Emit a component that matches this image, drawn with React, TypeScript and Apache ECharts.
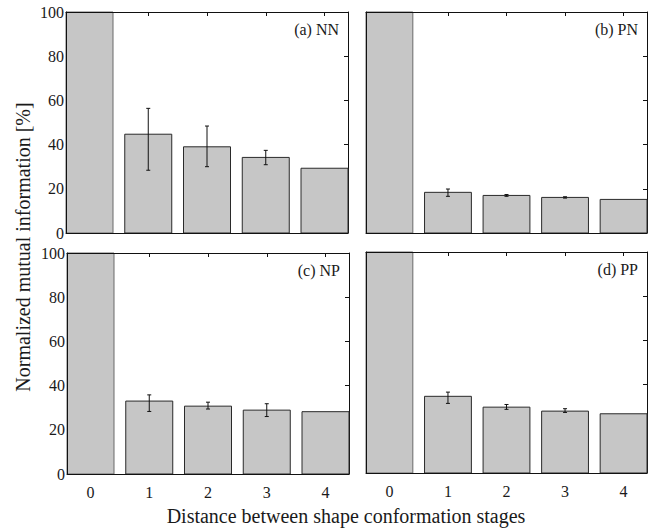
import React, { useEffect, useRef } from "react";
import * as echarts from "echarts";

const categories = [0, 1, 2, 3, 4];
const topTicks = [1, 2, 3, 4];

const nnMean = [100, 44.7, 39.0, 34.2, 29.3];
const nnLow = [null, 28.4, 30.0, 30.9, null];
const nnHigh = [null, 56.4, 48.4, 37.4, null];

const pnMean = [100, 18.4, 17.0, 16.1, 15.2];
const pnLow = [null, 16.6, 16.6, 15.8, null];
const pnHigh = [null, 19.9, 17.4, 16.4, null];

const npMean = [100, 33.0, 30.7, 28.9, 28.2];
const npLow = [null, 28.3, 29.4, 26.0, null];
const npHigh = [null, 35.8, 32.5, 31.8, null];

const ppMean = [100, 34.7, 29.8, 28.0, 26.8];
const ppLow = [null, 31.5, 28.8, 27.4, null];
const ppHigh = [null, 36.6, 31.0, 29.1, null];

const panelLabels = ["(a) NN", "(b) PN", "(c) NP", "(d) PP"];
const xTitle = "Distance between shape conformation stages";
const yTitle = "Normalized mutual information [%]";

const FONT = "'Liberation Serif', 'Times New Roman', serif";

const panels = [
  { mean: nnMean, low: nnLow, high: nnHigh },
  { mean: pnMean, low: pnLow, high: pnHigh },
  { mean: npMean, low: npLow, high: npHigh },
  { mean: ppMean, low: ppLow, high: ppHigh },
];

const grids = [
  { left: 66, top: 12, width: 282, height: 221 },
  { left: 366, top: 12, width: 281, height: 221 },
  { left: 67, top: 253, width: 282, height: 221 },
  { left: 366, top: 252, width: 281, height: 221 },
];

const HALF = 0.4;

function buildOption() {
  const xAxis: any[] = [];
  const yAxis: any[] = [];
  const series: any[] = [];
  const graphic: any[] = [];

  grids.forEach((g, i) => {
    const showX = i >= 2;
    const showY = i % 2 === 0;
    const lineStyle = { color: "#111", width: 1 };
    xAxis.push({
      type: "value",
      gridIndex: i,
      position: "bottom",
      z: 20,
      min: -HALF,
      max: 4 + HALF,
      axisLine: { show: true, onZero: false, lineStyle },
      axisTick: { show: false },
      axisLabel: {
        show: showX,
        customValues: categories,
        margin: 10,
        fontFamily: FONT,
        fontSize: 16,
        color: "#1a1a1a",
        formatter: (v: number) => String(Math.round(v)),
      },
      splitLine: { show: false },
    });
    xAxis.push({
      type: "value",
      gridIndex: i,
      position: "top",
      z: 20,
      min: -HALF,
      max: 4 + HALF,
      axisLine: { show: true, onZero: false, lineStyle },
      axisTick: { show: true, inside: true, length: 4, lineStyle, customValues: topTicks },
      axisLabel: { show: false },
      splitLine: { show: false },
    });
    yAxis.push({
      type: "value",
      gridIndex: i,
      position: "left",
      z: 20,
      min: 0,
      max: 100,
      interval: 20,
      axisLine: { show: true, onZero: false, lineStyle },
      axisTick: { show: false },
      axisLabel: {
        show: showY,
        margin: 2,
        fontFamily: FONT,
        fontSize: 16,
        color: "#1a1a1a",
      },
      splitLine: { show: false },
    });
    yAxis.push({
      type: "value",
      gridIndex: i,
      position: "right",
      z: 0,
      min: 0,
      max: 100,
      interval: 20,
      axisLine: { show: true, onZero: false, lineStyle },
      axisTick: { show: true, inside: true, length: 4, lineStyle },
      axisLabel: { show: false },
      splitLine: { show: false },
    });

    const p = panels[i];
    series.push({
      type: "custom",
      xAxisIndex: 2 * i,
      yAxisIndex: 2 * i,
      z: 5,
      data: categories.map((c, k) => [c, p.mean[k]]),
      encode: { x: 0, y: 1 },
      renderItem: (params: any, api: any) => {
        const x = api.value(0);
        const y = api.value(1);
        const a = api.coord([x - HALF, y]);
        const b = api.coord([x + HALF, 0]);
        return {
          type: "rect",
          shape: { x: a[0], y: a[1], width: b[0] - a[0], height: b[1] - a[1] },
          style: {
            fill: "#c6c6c6",
            stroke: x === 0 ? "#6a6a6a" : "#2a2a2a",
            lineWidth: 1,
          },
        };
      },
    });
    const errData: any[] = [];
    categories.forEach((c, k) => {
      if (p.low[k] != null && p.high[k] != null) errData.push([c, p.low[k], p.high[k]]);
    });
    series.push({
      type: "custom",
      xAxisIndex: 2 * i,
      yAxisIndex: 2 * i,
      z: 6,
      data: errData,
      encode: { x: 0, y: [1, 2] },
      renderItem: (params: any, api: any) => {
        const x = api.value(0);
        const lo = api.coord([x, api.value(1)]);
        const hi = api.coord([x, api.value(2)]);
        const cap = 2;
        const st = { stroke: "#111", lineWidth: 1 };
        return {
          type: "group",
          children: [
            { type: "line", shape: { x1: lo[0], y1: lo[1], x2: hi[0], y2: hi[1] }, style: st },
            { type: "line", shape: { x1: lo[0] - cap, y1: lo[1], x2: lo[0] + cap, y2: lo[1] }, style: st },
            { type: "line", shape: { x1: hi[0] - cap, y1: hi[1], x2: hi[0] + cap, y2: hi[1] }, style: st },
          ],
        };
      },
    });

    graphic.push({
      type: "text",
      right: 652 - (g.left + g.width) + 9,
      top: g.top + 9,
      style: {
        text: panelLabels[i],
        fontFamily: FONT,
        fontSize: 16,
        fill: "#1a1a1a",
      },
      z: 10,
    });
  });

  graphic.push({
    type: "text",
    x: 346,
    y: 516,
    style: {
      text: xTitle,
      fontFamily: FONT,
      fontSize: 20,
      fill: "#1a1a1a",
      align: "center",
      verticalAlign: "middle",
    },
  });
  graphic.push({
    type: "text",
    x: 23,
    y: 247,
    rotation: Math.PI / 2,
    style: {
      text: yTitle,
      fontFamily: FONT,
      fontSize: 20,
      fill: "#1a1a1a",
      align: "center",
      verticalAlign: "middle",
    },
  });

  return {
    animation: false,
    backgroundColor: "#fff",
    grid: grids.map((g) => ({ ...g, containLabel: false })),
    xAxis,
    yAxis,
    series,
    graphic,
  };
}

export default function App() {
  const ref = useRef<HTMLDivElement>(null);
  useEffect(() => {
    if (!ref.current) return;
    const chart = echarts.init(ref.current, null, { renderer: "svg" });
    chart.setOption(buildOption() as any);
    return () => chart.dispose();
  }, []);
  return <div ref={ref} style={{ width: 652, height: 529, position: "absolute", left: 0, top: 0 }} />;
}
